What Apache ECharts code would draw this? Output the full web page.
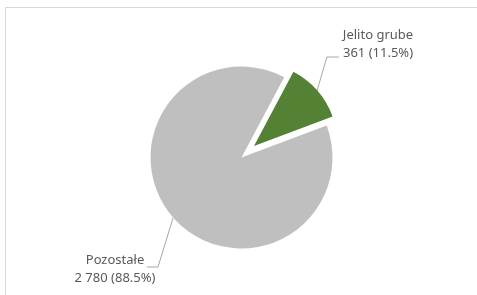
<!DOCTYPE html>
<html>
<head>
<meta charset="utf-8">
<script src="https://cdn.jsdelivr.net/npm/echarts@6/dist/echarts.min.js"></script>
<style>
  html, body { margin:0; padding:0; background:#fff; }
  #frame { position:absolute; left:5px; top:7px; right:-2px; bottom:-2px;
           border-left:1px solid #d9d9d9; border-top:1px solid #d9d9d9; }
  #main  { position:absolute; left:0; top:0; width:477px; height:295px; }
</style>
</head>
<body>
<div id="frame"></div>
<div id="main"></div>
<script>
// dane
const categories = ['Jelito grube', 'Pozostałe']
const values     = [361, 2780]
const percents   = ['11.5%', '88.5%']
const valueLabels = ['361', '2 780']
const colors     = ['#548235', '#bfbfbf']

const center = [241.5, 157.5]
const explodedCenter = [254, 146]   // wysunięty wycinek
const startAngle = 62

// pozycje etykiet (środek bloku tekstu)
const labelPos = { 0: [378, 44], 1: [115, 269] }

function makeData(shownIndex) {
  return categories.map((name, i) => ({
    name,
    value: values[i],
    itemStyle: { color: i === shownIndex ? colors[i] : 'rgba(0,0,0,0)' },
    label: { show: i === shownIndex },
    labelLine: { show: i === shownIndex }
  }))
}

const labelStyle = {
  position: 'outside',
  color: '#595959',
  fontFamily: 'Noto Sans',
  fontSize: 13,
  lineHeight: 18,
  align: 'center',
  formatter: p => p.name + '\n' + valueLabels[p.dataIndex] + ' (' + percents[p.dataIndex] + ')'
}

function layoutFor(idx) {
  return function (params) {
    const pos = labelPos[idx]
    const w = params.labelRect.width
    const start = params.labelLinePoints ? params.labelLinePoints[0] : null
    let pts
    if (idx === 0) {
      const end = [pos[0] - w / 2 - 4, pos[1] + 13]
      pts = [start, [end[0] - 12, end[1]], end]
    } else {
      const end = [pos[0] + 32, pos[1] - 2]
      pts = [start, [end[0] + 11, end[1]], end]
    }
    return {
      x: pos[0], y: pos[1], align: 'center', verticalAlign: 'middle',
      labelLinePoints: start ? pts : undefined
    }
  }
}

const chart = echarts.init(document.getElementById('main'))
chart.setOption({
  animation: false,
  series: [
    {
      // reszta (szary)
      type: 'pie',
      center: center,
      radius: 91,
      startAngle: startAngle,
      clockwise: true,
      silent: true,
      avoidLabelOverlap: false,
      label: labelStyle,
      labelLine: { lineStyle: { color: '#a6a6a6', width: 1 } },
      labelLayout: layoutFor(1),
      emphasis: { disabled: true },
      data: makeData(1)
    },
    {
      // jelito grube (zielony, wysunięty)
      type: 'pie',
      center: explodedCenter,
      radius: 84,
      startAngle: startAngle,
      clockwise: true,
      silent: true,
      avoidLabelOverlap: false,
      label: labelStyle,
      labelLine: { lineStyle: { color: '#a6a6a6', width: 1 } },
      labelLayout: layoutFor(0),
      emphasis: { disabled: true },
      data: makeData(0)
    }
  ]
})
</script>
</body>
</html>
